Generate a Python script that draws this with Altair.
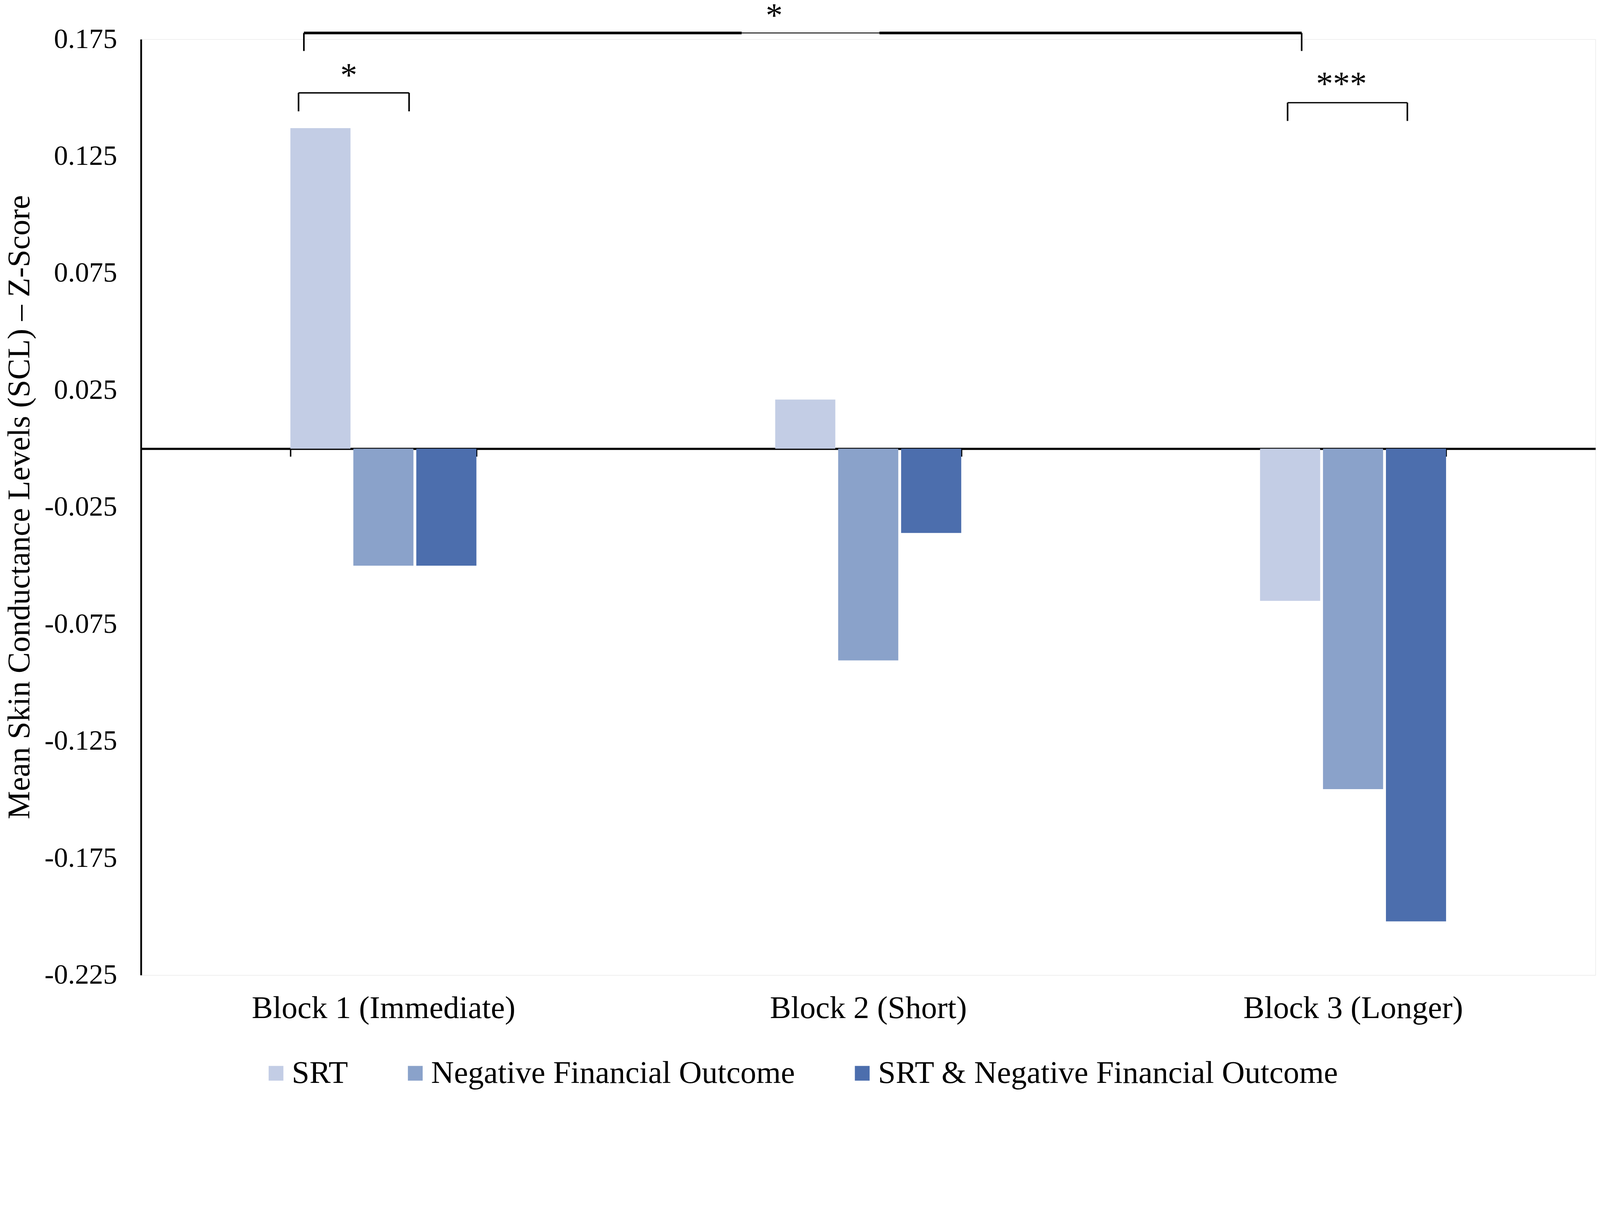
import altair as alt
import pandas as pd

# ---- data ----
blocks = ["Block 1 (Immediate)", "Block 2 (Short)", "Block 3 (Longer)"]
conditions = ["SRT", "Negative Financial Outcome", "SRT & Negative Financial Outcome"]
srt_values = [0.137, 0.021, -0.065]
nfo_values = [-0.050, -0.0905, -0.1455]
both_values = [-0.050, -0.036, -0.202]
colors = ["#C3CDE5", "#8AA2CA", "#4C6EAD"]
y_ticks = [-0.225, -0.175, -0.125, -0.075, -0.025, 0.025, 0.075, 0.125, 0.175]

# significance brackets: x in block units (0..3 across the plot), y in data units
bracket_left = [0.325, 0.336, 2.365]
bracket_right = [0.553, 2.394, 2.612]
bracket_top = [0.1521, 0.1777, 0.1479]
bracket_bottom = [0.1442, 0.170, 0.1401]
top_bracket_thin_part = [1.239, 1.523]
star_labels = ["*", "*", "***"]
star_x = [0.4286, 1.306, 2.476]
star_y = [0.1616, 0.1872, 0.158]

FONT = "Liberation Serif"

rows = []
for i, b in enumerate(blocks):
    for c, vals in zip(conditions, [srt_values, nfo_values, both_values]):
        rows.append({"block": b, "condition": c, "value": vals[i]})
df = pd.DataFrame(rows)

line_w = [4, 7.5, 3.5]
segs = []
for i in range(3):
    L, R, T, B = bracket_left[i], bracket_right[i], bracket_top[i], bracket_bottom[i]
    if i == 1:
        g1, g2 = top_bracket_thin_part
        segs.append({"x1": L, "x2": g1, "y1": T, "y2": T, "w": line_w[i]})
        segs.append({"x1": g1, "x2": g2, "y1": T, "y2": T, "w": 2.5})
        segs.append({"x1": g2, "x2": R, "y1": T, "y2": T, "w": line_w[i]})
    else:
        segs.append({"x1": L, "x2": R, "y1": T, "y2": T, "w": line_w[i]})
    segs.append({"x1": L, "x2": L, "y1": T, "y2": B, "w": 4.5})
    segs.append({"x1": R, "x2": R, "y1": T, "y2": B, "w": 4.5})
seg_df = pd.DataFrame(segs)
star_df = pd.DataFrame({"label": star_labels, "x": star_x, "y": star_y})

W, H = 4136, 2661
y_dom = [-0.225, 0.175]
zero_px = (y_dom[1] - 0) / (y_dom[1] - y_dom[0]) * H

# group of three bars occupies 529 px of each 1378.7 px block
p_in = 1 - 529 / (W / 3)

y_scale = alt.Scale(domain=y_dom, nice=False, zero=False)
y_axis = alt.Axis(
    values=y_ticks,
    labelExpr="replace(format(datum.value, '.3f'), '\u2212', '-')",
    ticks=False, grid=False,
    domainColor="black", domainWidth=5,
    labelPadding=68, labelFont=FONT, labelFontSize=80, labelColor="black",
    labelLimit=2000,
    title="Mean Skin Conductance Levels (SCL) \u2013 Z-Score",
    titleFont=FONT, titleFontSize=90, titleFontWeight="normal", titleColor="black",
    titleAngle=270, titleAlign="center", titleBaseline="alphabetic",
    titleX=-318, titleY=1330, titleLimit=5000,
)

bars = alt.Chart(df).mark_bar().encode(
    x=alt.X("block:N", sort=blocks,
            scale=alt.Scale(paddingInner=p_in, paddingOuter=p_in / 2),
            axis=alt.Axis(title=None, orient="bottom", offset=-(H - zero_px),
                          domainColor="black", domainWidth=6,
                          tickBand="extent", ticks=True, tickSize=22, tickWidth=4,
                          tickColor="black", labelPadding=1525, labelAngle=0,
                          labelFont=FONT, labelFontSize=90, labelColor="black",
                          labelLimit=3000, grid=False)),
    xOffset=alt.XOffset("condition:N", sort=conditions,
                        scale=alt.Scale(paddingInner=0.045, paddingOuter=0)),
    y=alt.Y("value:Q", scale=y_scale, axis=y_axis),
    color=alt.Color("condition:N", sort=conditions,
                    scale=alt.Scale(domain=conditions, range=colors),
                    legend=alt.Legend(title=None, orient="none", legendX=339, legendY=2895,
                                      direction="horizontal", symbolType="square",
                                      symbolSize=1764, symbolStrokeWidth=0,
                                      labelFont=FONT, labelFontSize=90, labelColor="black",
                                      labelOffset=0, columnPadding=146, padding=0,
                                      labelLimit=3000)),
)

x_q = alt.X("x1:Q", scale=alt.Scale(domain=[0, 3], nice=False, zero=False), axis=None)

rules = alt.Chart(seg_df).mark_rule(color="black", strokeCap="butt").encode(
    x=x_q, x2="x2:Q",
    y=alt.Y("y1:Q", scale=y_scale, axis=y_axis), y2="y2:Q",
    strokeWidth=alt.StrokeWidth("w:Q", scale=None),
)

stars = alt.Chart(star_df).mark_text(
    font=FONT, fontSize=96, color="black", align="center", baseline="alphabetic", dy=45
).encode(
    x=alt.X("x:Q", scale=alt.Scale(domain=[0, 3], nice=False, zero=False), axis=None),
    y=alt.Y("y:Q", scale=y_scale, axis=y_axis),
    text="label:N",
)

chart = alt.layer(bars, rules, stars).resolve_scale(x="independent").properties(
    width=W, height=H,
    padding={"left": 392, "top": -64, "right": 4, "bottom": 414},
    autosize=alt.AutoSizeParams(type="none"),
).configure_view(stroke=None).configure(background="white")

chart.save("out.html", embed_options={"renderer": "svg", "actions": False})
